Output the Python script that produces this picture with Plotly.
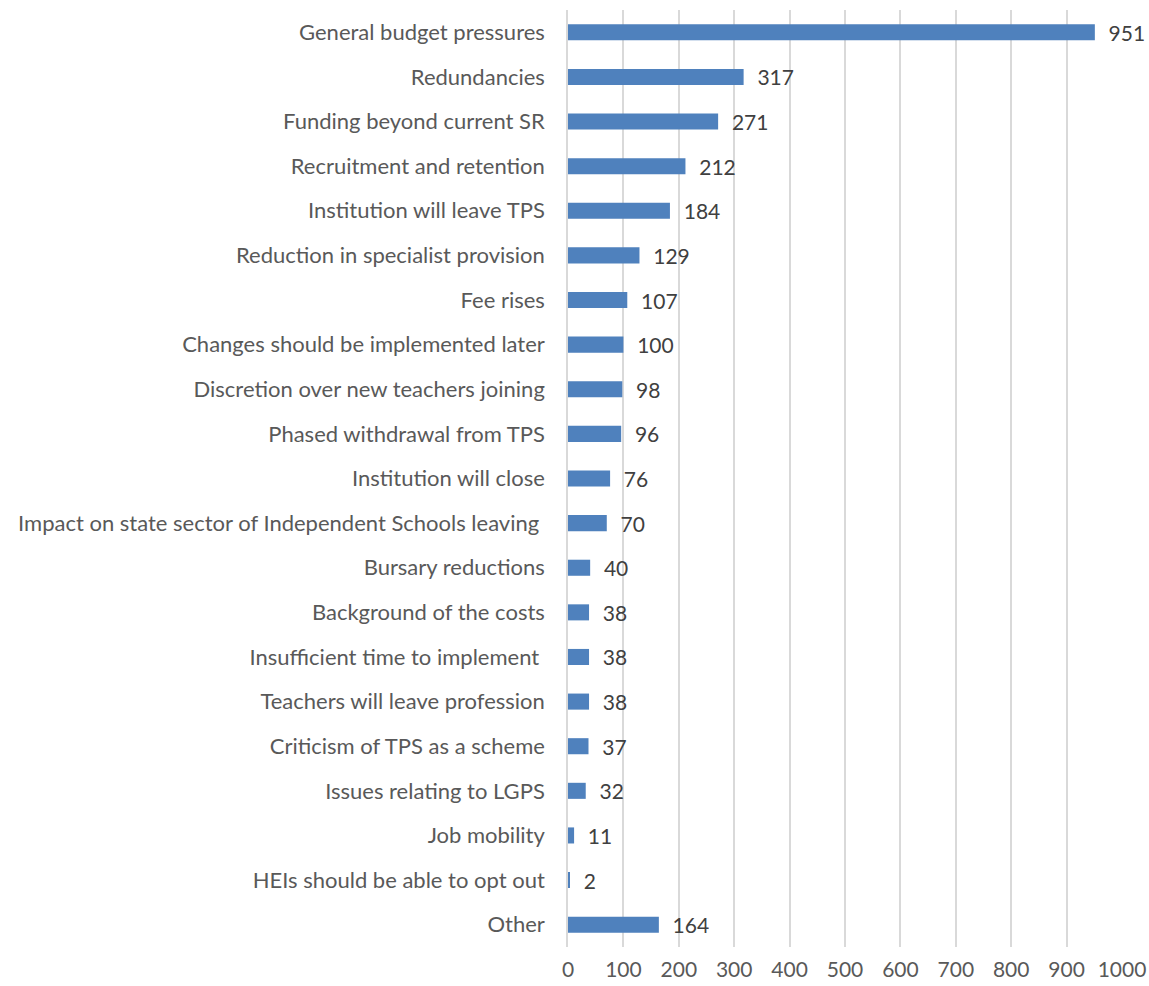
import plotly.graph_objects as go

categories = [
    "General budget pressures",
    "Redundancies",
    "Funding beyond current SR",
    "Recruitment and retention",
    "Institution will leave TPS",
    "Reduction in specialist provision",
    "Fee rises",
    "Changes should be implemented later",
    "Discretion over new teachers joining",
    "Phased withdrawal from TPS",
    "Institution will close",
    "Impact on state sector of Independent Schools leaving ",
    "Bursary reductions",
    "Background of the costs",
    "Insufficient time to implement ",
    "Teachers will leave profession",
    "Criticism of TPS as a scheme",
    "Issues relating to LGPS",
    "Job mobility",
    "HEIs should be able to opt out",
    "Other",
]
values = [951, 317, 271, 212, 184, 129, 107, 100, 98, 96, 76, 70, 40, 38, 38, 38, 37, 32, 11, 2, 164]
x_ticks = [0, 100, 200, 300, 400, 500, 600, 700, 800, 900, 1000]

FONT = "Lato, 'Open Sans', sans-serif"

fig = go.Figure(go.Bar(
    y=categories,
    x=values,
    orientation="h",
    marker=dict(color="#4f81bd", line=dict(width=0)),
    width=0.36,
    text=["  " + str(v) for v in values],
    textposition="outside",
    constraintext="none",
    cliponaxis=False,
    textfont=dict(family=FONT, size=21, color="#404040"),
))

fig.update_layout(
    width=1149, height=986,
    margin=dict(l=568, r=27, t=10, b=39, autoexpand=False),
    paper_bgcolor="white", plot_bgcolor="white",
    showlegend=False,
    font=dict(family=FONT, size=22, color="#595959"),
    xaxis=dict(
        range=[0, 1000], tickvals=x_ticks, showgrid=True,
        gridcolor="#d9d9d9", gridwidth=1.5, zeroline=False,
        showline=False, ticks="", tickfont=dict(size=21, color="#595959"),
        ticklabelstandoff=8, automargin=False,
    ),
    yaxis=dict(
        categoryorder="array", categoryarray=categories[::-1],
        autorange=False, range=[-0.5, len(categories) - 0.5],
        showgrid=False, zeroline=False, showline=True,
        linecolor="#d9d9d9", linewidth=1.5,
        ticks="", tickfont=dict(size=22, color="#595959"),
        ticklabelstandoff=17, automargin=False,
    ),
)

fig.write_html(
    "out.html",
    config={"displayModeBar": False},
    post_script="document.body.style.margin='0';document.body.style.overflow='hidden';",
)
